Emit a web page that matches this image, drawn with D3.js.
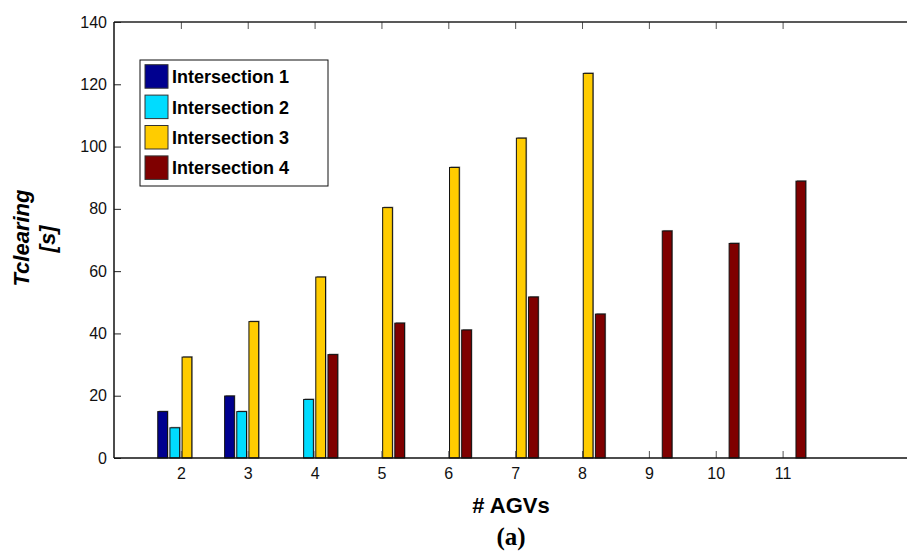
<!DOCTYPE html>
<html>
<head>
<meta charset="utf-8">
<script src="https://cdn.jsdelivr.net/npm/d3@7"></script>
<style>
  body { margin: 0; background: #fff; }
  svg { display: block; font-family: "Liberation Sans", Arial, sans-serif; }
</style>
</head>
<body>
<div id="chart"></div>
<script>
// data
var agvs = [2, 3, 4, 5, 6, 7, 8, 9, 10, 11];
var seriesNames = ["Intersection 1", "Intersection 2", "Intersection 3", "Intersection 4"];
var inter1 = [14.9, 19.9, 0, 0, 0, 0, 0, 0, 0, 0];
var inter2 = [9.7, 14.9, 18.8, 0, 0, 0, 0, 0, 0, 0];
var inter3 = [32.4, 43.8, 58.1, 80.4, 93.3, 102.7, 123.5, 0, 0, 0];
var inter4 = [0, 0, 33.2, 43.3, 41.1, 51.7, 46.2, 72.9, 68.9, 88.9];
var yTicks = [0, 20, 40, 60, 80, 100, 120, 140];
var colors = ["#00008f", "#00dcff", "#ffcc00", "#7f0000"];

var allSeries = [inter1, inter2, inter3, inter4];

var W = 907, H = 551;
var margin = { top: 22, left: 114 },
    plotBottom = 458;

// x in data units: axis runs from 1 to 13 (right end is cut off by the page)
var x = d3.scaleLinear().domain([1, 13]).range([margin.left, margin.left + 12 * 66.86]);
var y = d3.scaleLinear().domain([0, 140]).range([plotBottom, margin.top]);

// grouped bars, MATLAB style: group width 4/5.5, bars 80% of slot
var groupW = 4 / 5.5;
var inner = d3.scaleBand().domain(seriesNames)
    .range([-groupW / 2, groupW / 2])
    .paddingInner(0.2).paddingOuter(0.1);

var svg = d3.select("#chart").append("svg")
    .attr("width", W)
    .attr("height", H);

// bars
allSeries.forEach(function (vals, si) {
    var name = seriesNames[si];
    var rows = agvs.map(function (a, i) { return { a: a, v: vals[i] }; })
        .filter(function (d) { return d.v > 0; });
    var g = svg.append("g");
    // faint shadow like the original renderer
    g.selectAll("rect.sh").data(rows).enter().append("rect")
        .attr("class", "sh")
        .attr("x", function (d) { return x(d.a + inner(name)) + 1; })
        .attr("y", function (d) { return y(d.v) - 1; })
        .attr("width", function () { return x(1 + inner.bandwidth()) - x(1); })
        .attr("height", function (d) { return y(0) - y(d.v) + 1; })
        .style("fill", "#999");
    g.selectAll("rect.bar").data(rows).enter().append("rect")
        .attr("class", "bar")
        .attr("x", function (d) { return x(d.a + inner(name)); })
        .attr("y", function (d) { return y(d.v); })
        .attr("width", function () { return x(1 + inner.bandwidth()) - x(1); })
        .attr("height", function (d) { return y(0) - y(d.v); })
        .style("fill", colors[si])
        .style("stroke", "#111")
        .style("stroke-width", 1);
});

// axes, ticks pointing inward
var xAxis = svg.append("g")
    .attr("transform", "translate(0," + plotBottom + ")")
    .call(d3.axisBottom(x).tickValues(agvs).tickSizeInner(-7).tickSizeOuter(0).tickPadding(10));
xAxis.select(".domain").remove();
xAxis.attr("font-family", null);
xAxis.selectAll("text").style("font-size", "16px").style("fill", "#111");
xAxis.selectAll("line").style("stroke", "#555");

var xTop = svg.append("g")
    .attr("transform", "translate(0," + margin.top + ")")
    .call(d3.axisTop(x).tickValues(agvs).tickSizeInner(-7).tickSizeOuter(0).tickFormat(""));
xTop.select(".domain").remove();
xTop.selectAll("line").style("stroke", "#555");

var yAxis = svg.append("g")
    .attr("transform", "translate(" + margin.left + ",0)")
    .call(d3.axisLeft(y).tickValues(yTicks).tickSizeInner(-7).tickSizeOuter(0).tickPadding(7));
yAxis.select(".domain").remove();
yAxis.attr("font-family", null);
yAxis.selectAll("text").style("font-size", "16px").style("fill", "#111");
yAxis.selectAll("line").style("stroke", "#222");

// frame lines (right side falls outside the page)
svg.append("line").attr("x1", margin.left).attr("x2", W).attr("y1", margin.top).attr("y2", margin.top)
    .style("stroke", "#222").style("stroke-width", 1.5);
svg.append("line").attr("x1", margin.left).attr("x2", W).attr("y1", plotBottom).attr("y2", plotBottom)
    .style("stroke", "#111").style("stroke-width", 1.5);
svg.append("line").attr("x1", margin.left).attr("x2", margin.left).attr("y1", margin.top).attr("y2", plotBottom)
    .style("stroke", "#111").style("stroke-width", 1.5);

// axis titles
svg.append("text")
    .attr("x", 511).attr("y", 513)
    .attr("text-anchor", "middle")
    .style("font-size", "22px").style("font-weight", "bold")
    .text("# AGVs");

svg.append("text")
    .attr("transform", "translate(29,238) rotate(-90)")
    .attr("text-anchor", "middle")
    .style("font-size", "22px").style("font-weight", "bold").style("font-style", "italic")
    .text("Tclearing");
svg.append("text")
    .attr("transform", "translate(55,239) rotate(-90)")
    .attr("text-anchor", "middle")
    .style("font-size", "22px").style("font-weight", "bold").style("font-style", "italic")
    .text("[s]");

svg.append("text")
    .attr("x", 511).attr("y", 545)
    .attr("text-anchor", "middle")
    .style("font-family", "'Liberation Serif', 'Times New Roman', serif")
    .style("font-size", "25px").style("font-weight", "bold")
    .text("(a)");

// legend
var legend = svg.append("g").attr("transform", "translate(140,60)");
legend.append("rect")
    .attr("width", 188).attr("height", 126)
    .style("fill", "#fff").style("stroke", "#111").style("stroke-width", 1);
seriesNames.forEach(function (name, i) {
    var row = legend.append("g").attr("transform", "translate(0," + (4.7 + i * 30.4) + ")");
    row.append("rect")
        .attr("x", 5).attr("width", 23).attr("height", 23.5)
        .style("fill", colors[i]).style("stroke", "#333").style("stroke-width", 1);
    row.append("text")
        .attr("x", 32).attr("y", 18.6)
        .style("font-size", "18px").style("font-weight", "bold")
        .text(name);
});
</script>
</body>
</html>
